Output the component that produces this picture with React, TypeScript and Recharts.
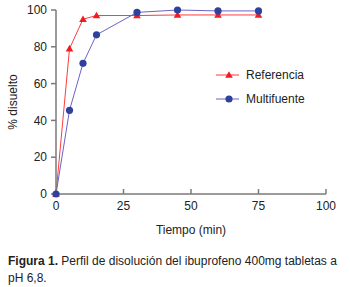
import React from "react";
import { LineChart, Line, XAxis, YAxis, Legend } from "recharts";

const tiempos = [0, 5, 10, 15, 30, 45, 60, 75];
const referencia = [0, 79, 95, 97, 97, 97.3, 97.3, 97.3];
const multifuente = [0, 45.5, 71, 86.5, 98.7, 100, 99.5, 99.5];
const xTicks = [0, 25, 50, 75, 100];
const yTicks = [0, 20, 40, 60, 80, 100];

const data = tiempos.map((t, i) => ({
  t,
  referencia: referencia[i],
  multifuente: multifuente[i],
}));

const RED = "#f01c24";
const RED_LINE = "#ff3b3b";
const BLUE = "#2d429c";
const BLUE_LINE = "#6a63c9";
const AXIS = "#7a7a7a";
const FONT = "'Liberation Sans', Arial, sans-serif";

const Triangle = ({ cx, cy, fill }: { cx?: number; cy?: number; fill: string }) => {
  if (cx == null || cy == null) return null;
  const s = 3.8;
  return (
    <polygon
      points={`${cx},${cy - s} ${cx - s},${cy + s * 0.75} ${cx + s},${cy + s * 0.75}`}
      fill={fill}
    />
  );
};

const renderLegend = () => (
  <svg width={110} height={40}>
    <line x1={4} x2={27} y1={10} y2={10} stroke={RED_LINE} strokeWidth={1} />
    <Triangle cx={17} cy={10} fill={RED} />
    <text x={34} y={14} fontSize={12} fontFamily={FONT} fill="#222">
      Referencia
    </text>
    <line x1={4} x2={27} y1={34} y2={34} stroke={BLUE_LINE} strokeWidth={1} />
    <circle cx={17} cy={34} r={3.6} fill={BLUE} />
    <text x={34} y={38} fontSize={12} fontFamily={FONT} fill="#222">
      Multifuente
    </text>
  </svg>
);

export default function App() {
  return (
    <div style={{ position: "fixed", left: 0, top: 0, width: 350, height: 287, background: "#fff" }}>
      <LineChart
        width={350}
        height={245}
        data={data}
        margin={{ top: 10, right: 24, left: 0, bottom: 0 }}
      >
        <XAxis
          dataKey="t"
          type="number"
          domain={[0, 100]}
          ticks={xTicks}
          height={51}
          stroke={AXIS}
          strokeWidth={1.5}
          tickSize={-5}
          tickMargin={12}
          tick={{ fill: "#222", fontSize: 12, fontFamily: FONT }}
          label={{
            value: "Tiempo (min)",
            position: "insideBottom",
            offset: 11,
            style: { fill: "#222", fontSize: 12, fontFamily: FONT },
          }}
        />
        <YAxis
          type="number"
          domain={[0, 100]}
          ticks={yTicks}
          width={56}
          stroke={AXIS}
          strokeWidth={1.5}
          tickSize={5}
          tickMargin={4}
          tick={{ fill: "#222", fontSize: 12, fontFamily: FONT }}
          label={{
            value: "% disuelto",
            angle: -90,
            position: "insideLeft",
            offset: 13,
            style: { fill: "#222", fontSize: 12, fontFamily: FONT, textAnchor: "middle" },
          }}
        />
        <Legend
          layout="vertical"
          align="center"
          verticalAlign="middle"
          content={renderLegend}
          wrapperStyle={{ left: 212, top: 65, width: 110, height: 40 }}
        />
        <Line
          dataKey="referencia"
          stroke={RED_LINE}
          strokeWidth={1}
          isAnimationActive={false}
          dot={(p: any) => <Triangle key={p.index} cx={p.cx} cy={p.cy} fill={RED} />}
          activeDot={false}
        />
        <Line
          dataKey="multifuente"
          stroke={BLUE_LINE}
          strokeWidth={1}
          isAnimationActive={false}
          dot={{ r: 3.6, fill: BLUE, stroke: BLUE, strokeWidth: 0 }}
          activeDot={false}
        />
      </LineChart>
      <div
        style={{
          position: "absolute",
          left: 8,
          top: 253,
          fontFamily: FONT,
          fontSize: 12,
          lineHeight: "17px",
          color: "#222",
          whiteSpace: "nowrap",
        }}
      >
        <b>Figura 1.</b> Perfil de disolución del ibuprofeno 400mg tabletas a
        <br />
        pH 6,8.
      </div>
    </div>
  );
}
